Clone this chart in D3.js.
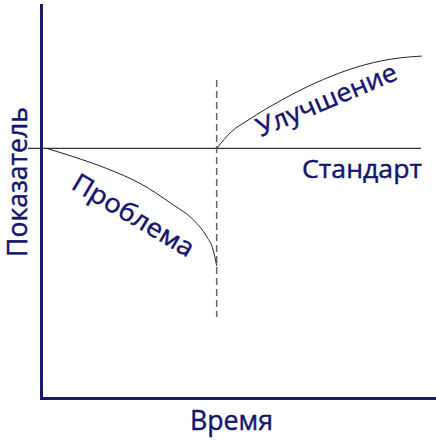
<!DOCTYPE html>
<meta charset="utf-8">
<script src="https://d3js.org/d3.v7.min.js"></script>
<html>
<head>
<style>
body { margin: 0; background: #fff; }
text { font-family: "Open Sans", sans-serif; fill: #14146e; stroke: #14146e; stroke-width: 0.45px; }
</style>
</head>
<body>
<svg id="chart" width="436" height="440"></svg>

<script>

// Data (time and indicator both on a 0..100 scale)
var timeDomain = [0, 100];
var valueDomain = [0, 100];

var standardValue = 63.5;
var standardSpan = [-3.3, 96.7];

var problemTime  = [1.5, 8.2, 16.7, 25.2, 33.7, 38.8, 42.2, 43.8, 44.7];
var problemValue = [63.5, 61.4, 58.4, 54.6, 49.1, 45.3, 41.0, 37.7, 33.6];

var improvementTime  = [44.7, 48.5, 52.7, 61.2, 69.7, 78.2, 86.7, 91.8, 96.9];
var improvementValue = [63.5, 67.8, 70.7, 75.8, 80.1, 83.5, 85.8, 86.6, 87.0];

var changeTime = 44.7;
var changeSpan = [20.6, 80.9];

var labels = {
  x: "Время",
  y: "Показатель",
  standard: "Стандарт",
  problem: "Проблема",
  improvement: "Улучшение"
};

var svg = d3.select("#chart");

// Scales
var x = d3.scaleLinear().domain(timeDomain).range([41, 434]);
var y = d3.scaleLinear().domain(valueDomain).range([398, 5]);

var line = d3.line()
    .x(function(d){ return x(d[0]) })
    .y(function(d){ return y(d[1]) })
    .curve(d3.curveMonotoneX);

// Standard level
svg.append("path")
    .attr("d", line(standardSpan.map(function(t){ return [t, standardValue] })))
    .attr("fill", "none")
    .attr("stroke", "#333")
    .attr("stroke-width", 1.3);

// Vertical dashed line where the change happens
svg.append("path")
    .attr("d", d3.line()([[x(changeTime), y(changeSpan[1])], [x(changeTime), y(changeSpan[0])]]))
    .attr("stroke", "#666")
    .attr("stroke-width", 1.5)
    .attr("stroke-dasharray", "7,4");

// Problem curve
svg.append("path")
    .attr("d", line(d3.zip(problemTime, problemValue)))
    .attr("fill", "none")
    .attr("stroke", "#222")
    .attr("stroke-width", 1);

// Improvement curve
svg.append("path")
    .attr("d", line(d3.zip(improvementTime, improvementValue)))
    .attr("fill", "none")
    .attr("stroke", "#222")
    .attr("stroke-width", 1);

// Axes (no ticks, only the lines)
svg.append("g")
    .attr("transform", "translate(0," + y(0) + ")")
    .call(d3.axisBottom(x).tickValues([]).tickSizeOuter(0));
svg.append("g")
    .attr("transform", "translate(" + x(0) + ",0)")
    .call(d3.axisLeft(y).tickValues([]).tickSizeOuter(0));
svg.selectAll(".domain")
    .attr("stroke", "#1a1a66")
    .attr("stroke-width", 3)
    .attr("stroke-linecap", "square");

// Labels
function label(txt, tx, ty, angle, size, len) {
  svg.append("text")
      .attr("transform", "translate(" + tx + "," + ty + ") rotate(" + angle + ")")
      .attr("font-size", size)
      .attr("textLength", len)
      .attr("lengthAdjust", "spacingAndGlyphs")
      .text(txt);
}

label(labels.x, 190, 430, 0, 28, 83);
label(labels.y, 27, 257, -90, 27.5, 150);
label(labels.standard, 302, 178, 0, 26, 120);
label(labels.problem, 70, 188, 30.7, 26, 137);
label(labels.improvement, 261, 137, -22.8, 26, 150);

</script>
</body>
</html>
